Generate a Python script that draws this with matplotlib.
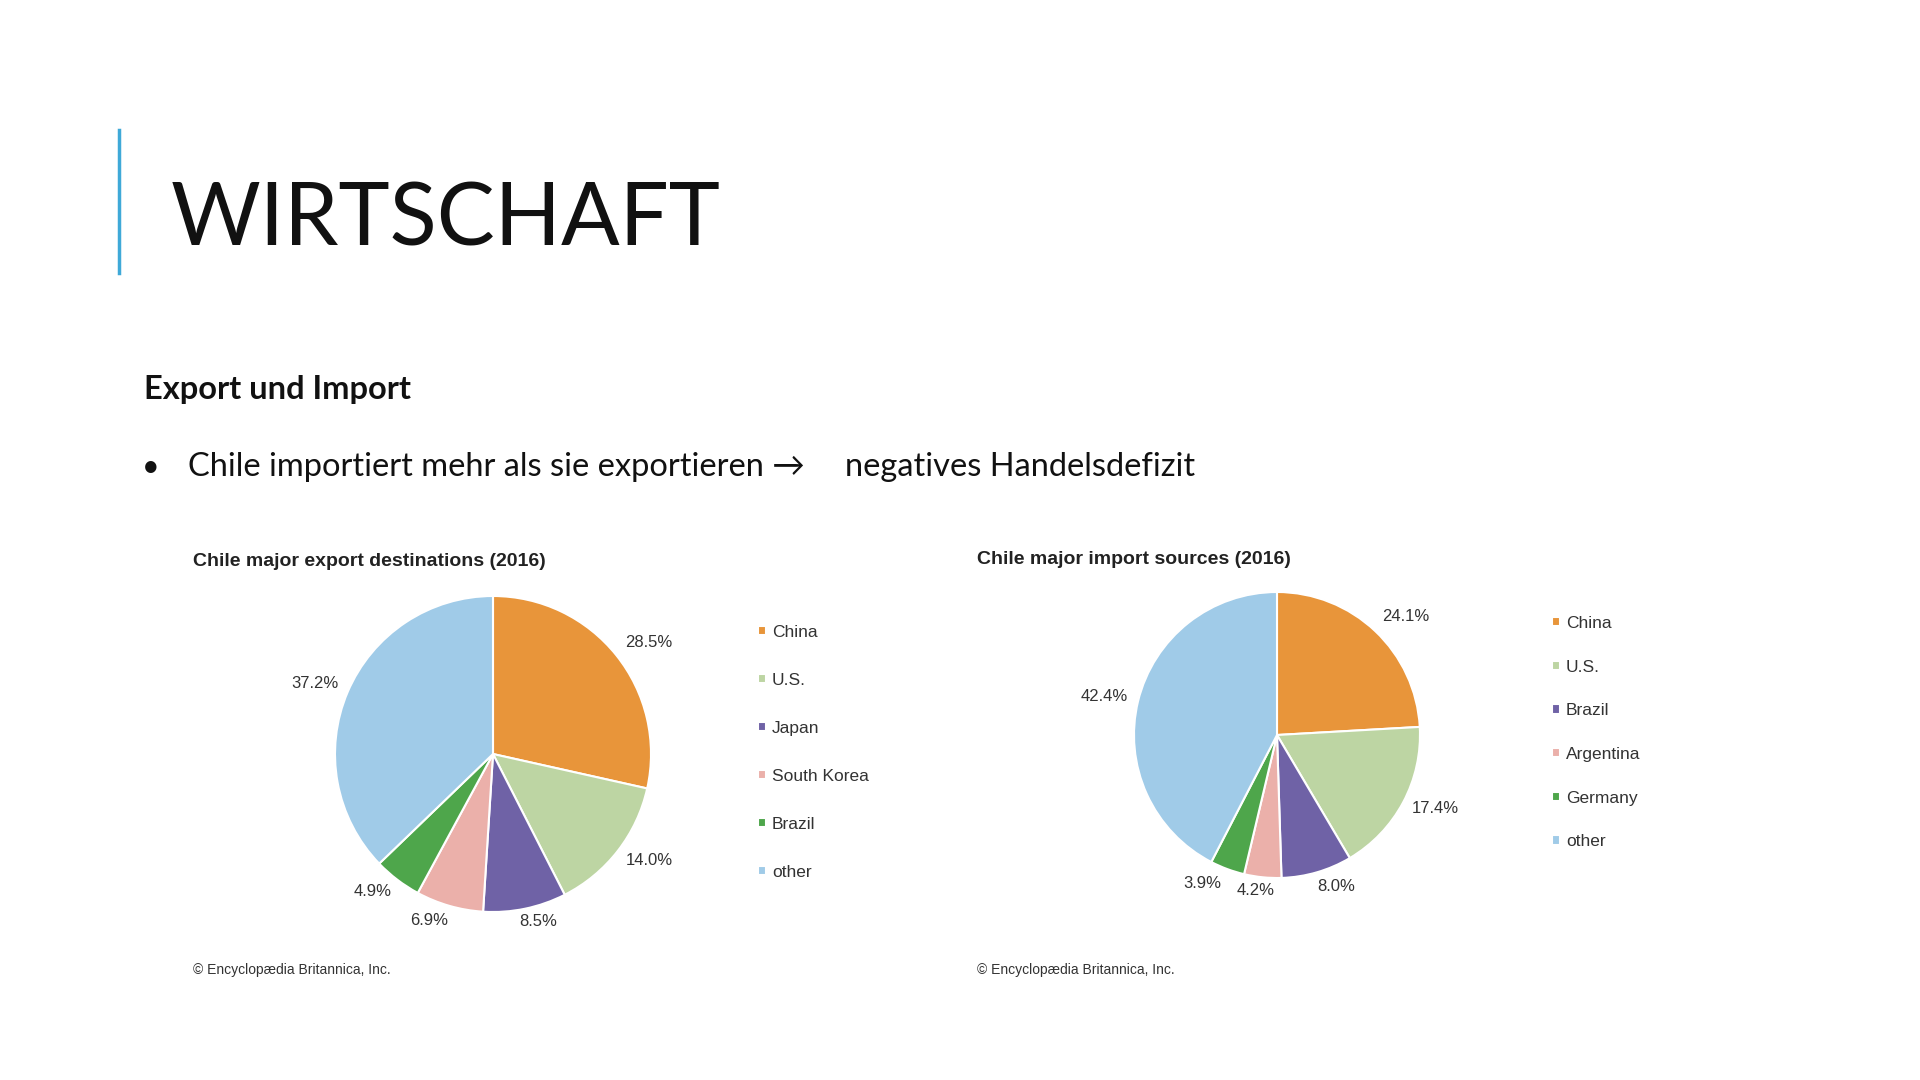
import matplotlib
matplotlib.use('Agg')
import matplotlib.pyplot as plt
from matplotlib.lines import Line2D
import numpy as np

# Data
export_countries = ['China', 'U.S.', 'Japan', 'South Korea', 'Brazil', 'other']
export_shares = [28.5, 14.0, 8.5, 6.9, 4.9, 37.2]
export_colors = ['#E8953A', '#BDD5A3', '#6F62A6', '#EBB0AA', '#4EA64B', '#A0CBE8']

import_countries = ['China', 'U.S.', 'Brazil', 'Argentina', 'Germany', 'other']
import_shares = [24.1, 17.4, 8.0, 4.2, 3.9, 42.4]
import_colors = ['#E8953A', '#BDD5A3', '#6F62A6', '#EBB0AA', '#4EA64B', '#A0CBE8']

# label placement (angle shift in degrees, distance in radii)
export_lbl_shift = [-3, 3.5, 3.5, -5, -4, 1.5]
export_lbl_dist = [1.21, 1.20, 1.10, 1.13, 1.16, 1.21]
import_lbl_shift = [-4, 3, 5, -2, -6.5, 1]
import_lbl_dist = [1.22, 1.22, 1.14, 1.10, 1.16, 1.24]

W, H = 1920, 1080
fig = plt.figure(figsize=(19.2, 10.8), dpi=100)
fig.patch.set_facecolor('white')

chart_font = ['Liberation Sans', 'DejaVu Sans']
slide_font = ['Lato', 'DejaVu Sans']

# slide header
fig.add_artist(Line2D([119 / W, 119 / W], [1 - 130 / H, 1 - 273 / H], color='#3FA9D8', lw=2.5))
fig.text(171 / W, 1 - 245 / H, 'WIRTSCHAFT', fontsize=62.5, family=slide_font,
         color='#111111', va='baseline', ha='left')
fig.text(144 / W, 1 - 399 / H, 'Export und Import', fontsize=23.5, family=slide_font,
         fontweight='bold', color='#111111', va='baseline')
fig.text(142 / W, 1 - 476 / H, '\u2022', fontsize=22, family=slide_font, color='#111111', va='baseline')
fig.text(188 / W, 1 - 476 / H, 'Chile importiert mehr als sie exportieren \u2192', fontsize=23.5,
         family=slide_font, color='#111111', va='baseline')
fig.text(845 / W, 1 - 476 / H, 'negatives Handelsdefizit', fontsize=23.5,
         family=slide_font, color='#111111', va='baseline')


def draw_pie(cx, cy, r, shares, colors, names, shifts, dists, title, tx, ty, lx, ly, lspace):
    half = 1.6 * r
    ax = fig.add_axes([(cx - half) / W, (H - cy - half) / H, 2 * half / W, 2 * half / H])
    wedges, _ = ax.pie(shares, colors=colors, startangle=90, counterclock=False, radius=1,
                       wedgeprops=dict(edgecolor='white', linewidth=1.5))
    ax.set_xlim(-1.6, 1.6)
    ax.set_ylim(-1.6, 1.6)
    ax.set_aspect('equal')
    ax.axis('off')
    for w, v, s, d in zip(wedges, shares, shifts, dists):
        mid = np.deg2rad((w.theta1 + w.theta2) / 2 + s)
        ax.text(d * np.cos(mid), d * np.sin(mid), '%.1f%%' % v, ha='center', va='center',
                fontsize=12, family=chart_font, color='#333333')
    fig.text(tx / W, 1 - ty / H, title, fontsize=14, fontweight='bold', family=chart_font,
             color='#222222', va='center')
    fig.text(tx / W, 1 - 970 / H, '\u00a9 Encyclop\u00e6dia Britannica, Inc.', fontsize=10,
             family=chart_font, color='#333333', va='center')
    leg = fig.legend(wedges, names, loc='upper left', bbox_to_anchor=(lx / W, 1 - ly / H),
                     frameon=False, prop=dict(family=chart_font, size=12.5),
                     handlelength=0.45, handleheight=0.45, handletextpad=0.35,
                     labelspacing=lspace, borderpad=0, borderaxespad=0)
    for t in leg.get_texts():
        t.set_color('#333333')


draw_pie(493, 754, 158, export_shares, export_colors, export_countries,
         export_lbl_shift, export_lbl_dist,
         'Chile major export destinations (2016)', 193, 561, 758, 625, 1.9)
draw_pie(1277, 735, 143, import_shares, import_colors, import_countries,
         import_lbl_shift, import_lbl_dist,
         'Chile major import sources (2016)', 977, 560, 1552, 616, 1.65)

fig.savefig('out.png', dpi=100)
